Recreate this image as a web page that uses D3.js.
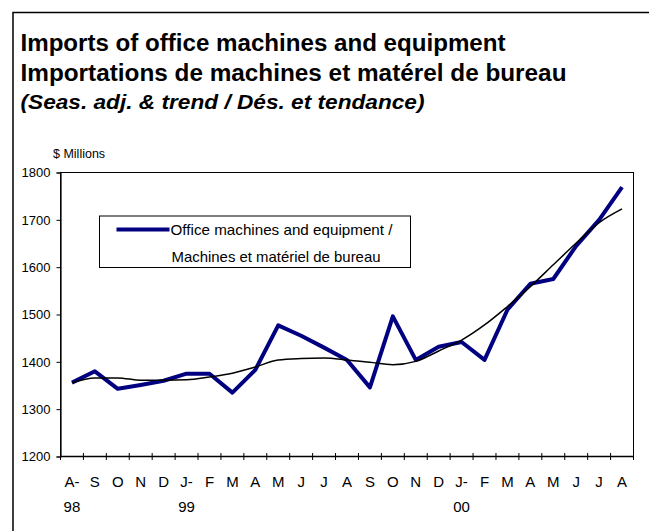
<!DOCTYPE html>
<html>
<head>
<meta charset="utf-8">
<script src="https://cdn.jsdelivr.net/npm/d3@7"></script>
<style>
  body { margin: 0; background: #fff; }
  svg { display: block; font-family: "Liberation Sans", Arial, sans-serif; }
</style>
</head>
<body>
<svg id="chart" width="649" height="531"></svg>
<script>
const months = ["A-","S","O","N","D","J-","F","M","A","M","J","J","A","S","O","N","D","J-","F","M","A","M","J","J","A"]
const years = ["98","","","","","99","","","","","","","","","","","","00","","","","","","",""]
const imports = [1356,1380,1343,1351,1360,1375,1375,1335,1383,1477,1455,1430,1404,1346,1496,1404,1432,1442,1404,1510,1565,1575,1645,1700,1769]
const trend = [1356,1366,1366,1361,1361,1362,1368,1376,1389,1404,1407,1408,1404,1399,1394,1401,1423,1446,1478,1517,1559,1605,1651,1694,1723]
const yTicks = [1200,1300,1400,1500,1600,1700,1800]

const titles = [
    { text: "Imports of office machines and equipment", size: 23, italic: false, y: 51, len: 485 },
    { text: "Importations de machines et matérel de bureau", size: 23, italic: false, y: 81, len: 546 },
    { text: "(Seas. adj. & trend / Dés. et tendance)", size: 21, italic: true, y: 109, len: 404 }
]

const config = {
    margin: { left: 60.5, top: 172.5 },
    width: 573,
    height: 284
}

const svg = d3.select("#chart")

// outer frame, only top and left show in the picture
svg.append("path")
    .attr("d", "M13,531V12.5H649")
    .attr("fill", "none")
    .attr("stroke", "#000")
    .attr("stroke-width", 1.5)

svg.selectAll(".title")
    .data(titles)
    .join("text")
    .classed("title", true)
    .attr("x", 20.5)
    .attr("y", d => d.y)
    .attr("font-size", d => d.size)
    .attr("font-weight", "bold")
    .attr("font-style", d => d.italic ? "italic" : "normal")
    .attr("textLength", d => d.len)
    .attr("lengthAdjust", "spacingAndGlyphs")
    .text(d => d.text)

svg.append("text")
    .attr("x", 53)
    .attr("y", 157.5)
    .attr("font-size", 12.5)
    .text("$ Millions")

const g = svg.append("g")
    .attr("transform", "translate("+config.margin.left+","+config.margin.top+")")

const x = d3.scaleBand()
    .domain(d3.range(months.length))
    .range([0, config.width])

const y = d3.scaleLinear()
    .domain([1200, 1800])
    .range([config.height, 0])

const cx = i => x(i) + x.bandwidth() / 2

// plot box
g.append("rect")
    .attr("width", config.width)
    .attr("height", config.height)
    .attr("fill", "none")
    .attr("stroke", "#000")
    .attr("stroke-width", 1)

const yAxis = d3.axisLeft(y)
    .tickValues(yTicks)
    .tickSize(4)
    .tickPadding(6)
    .tickFormat(d3.format("d"))

g.append("g")
    .attr("class", "y-axis")
    .call(yAxis)
    .call(a => a.select(".domain").attr("stroke-width", 1.2))
    .selectAll("text")
    .attr("font-size", 13)
    .attr("font-family", "Liberation Sans, Arial, sans-serif")
    .attr("fill", "#000")

// x axis: ticks on band edges crossing the axis line
const xg = g.append("g")
    .attr("class", "x-axis")
    .attr("transform", "translate(0,"+config.height+")")

xg.append("line")
    .attr("x1", 0)
    .attr("x2", config.width)
    .attr("stroke", "#000")
    .attr("stroke-width", 1.5)

xg.selectAll(".tick")
    .data(d3.range(months.length + 1))
    .join("line")
    .classed("tick", true)
    .attr("x1", d => d < months.length ? x(d) : config.width)
    .attr("x2", d => d < months.length ? x(d) : config.width)
    .attr("y1", -3.5)
    .attr("y2", 3.5)
    .attr("stroke", "#000")

xg.selectAll(".month")
    .data(months)
    .join("text")
    .classed("month", true)
    .attr("x", (d, i) => cx(i))
    .attr("y", 30)
    .attr("text-anchor", "middle")
    .attr("font-size", 15)
    .text(d => d)

xg.selectAll(".year")
    .data(years)
    .join("text")
    .classed("year", true)
    .attr("x", (d, i) => cx(i))
    .attr("y", 55.5)
    .attr("text-anchor", "middle")
    .attr("font-size", 15)
    .text(d => d)

const line = d3.line()
    .x((d, i) => cx(i))
    .y(d => y(d))

g.append("path")
    .datum(imports)
    .attr("d", line)
    .attr("fill", "none")
    .attr("stroke", "#000080")
    .attr("stroke-width", 4)
    .attr("stroke-linejoin", "round")

g.append("path")
    .datum(trend)
    .attr("d", line.curve(d3.curveMonotoneX))
    .attr("fill", "none")
    .attr("stroke", "#000")
    .attr("stroke-width", 1.5)

// legend
const legend = svg.append("g")
    .attr("transform", "translate(99.5,216)")

legend.append("rect")
    .attr("width", 311)
    .attr("height", 51.5)
    .attr("fill", "#fff")
    .attr("stroke", "#000")

legend.append("line")
    .attr("x1", 17)
    .attr("x2", 70)
    .attr("y1", 13.5)
    .attr("y2", 13.5)
    .attr("stroke", "#000080")
    .attr("stroke-width", 4)

legend.append("text")
    .attr("x", 71)
    .attr("y", 19)
    .attr("font-size", 15)
    .attr("textLength", 222)
    .attr("lengthAdjust", "spacingAndGlyphs")
    .text("Office machines and equipment /")

legend.append("text")
    .attr("x", 72)
    .attr("y", 45.5)
    .attr("font-size", 15)
    .attr("textLength", 209)
    .attr("lengthAdjust", "spacingAndGlyphs")
    .text("Machines et matériel de bureau")
</script>
</body>
</html>
